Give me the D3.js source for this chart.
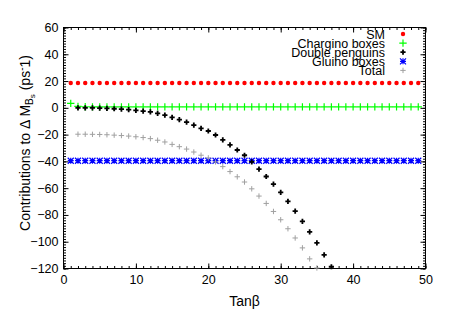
<!DOCTYPE html>
<html>
<head>
<meta charset="utf-8">
<script src="https://cdn.jsdelivr.net/npm/d3@7"></script>
<style>
  body { margin: 0; background: #fff; }
  svg { font-family: "Liberation Sans", Arial, sans-serif; }
</style>
</head>
<body>
<svg class="chart"></svg>
<script>
// data
var tanBeta = [1, 2, 3, 4, 5, 6, 7, 8, 9, 10, 11, 12, 13, 14, 15, 16, 17, 18, 19, 20,
  21, 22, 23, 24, 25, 26, 27, 28, 29, 30, 31, 32, 33, 34, 35, 36, 37, 38, 39, 40,
  41, 42, 43, 44, 45, 46, 47, 48, 49];

var smValues = [18.6, 18.6, 18.6, 18.6, 18.6, 18.6, 18.6, 18.6, 18.6, 18.6, 18.6, 18.6, 18.6, 18.6,
  18.6, 18.6, 18.6, 18.6, 18.6, 18.6, 18.6, 18.6, 18.6, 18.6, 18.6, 18.6, 18.6, 18.6, 18.6, 18.6,
  18.6, 18.6, 18.6, 18.6, 18.6, 18.6, 18.6, 18.6, 18.6, 18.6, 18.6, 18.6, 18.6, 18.6, 18.6, 18.6,
  18.6, 18.6, 18.6];

var charginoValues = [3.3, 1.1, 0.8, 0.7, 0.7, 0.7, 0.7, 0.7, 0.7, 0.7, 0.7, 0.7, 0.7, 0.7,
  0.7, 0.7, 0.7, 0.7, 0.7, 0.7, 0.7, 0.7, 0.7, 0.7, 0.7, 0.7, 0.7, 0.7, 0.7, 0.7,
  0.7, 0.7, 0.7, 0.7, 0.7, 0.7, 0.7, 0.7, 0.7, 0.7, 0.7, 0.7, 0.7, 0.7, 0.7, 0.7,
  0.7, 0.7, 0.7];

var gluinoValues = [-39.5, -39.5, -39.5, -39.5, -39.5, -39.5, -39.5, -39.5, -39.5, -39.5, -39.5,
  -39.5, -39.5, -39.5, -39.5, -39.5, -39.5, -39.5, -39.5, -39.5, -39.5, -39.5, -39.5, -39.5,
  -39.5, -39.5, -39.5, -39.5, -39.5, -39.5, -39.5, -39.5, -39.5, -39.5, -39.5, -39.5, -39.5,
  -39.5, -39.5, -39.5, -39.5, -39.5, -39.5, -39.5, -39.5, -39.5, -39.5, -39.5, -39.5];

var penguinTan = [2, 3, 4, 5, 6, 7, 8, 9, 10, 11, 12, 13, 14, 15, 16, 17, 18, 19, 20,
  21, 22, 23, 24, 25, 26, 27, 28, 29, 30, 31, 32, 33, 34, 35, 36, 37];
var penguinValues = [0, 0, -0.1, -0.2, -0.4, -0.7, -1.0, -1.4, -1.9, -2.5, -3.0, -4.2, -5.4,
  -7.2, -8.8, -10.6, -12.9, -15.3, -17.3, -20.3, -24.0, -27.7, -31.5, -35.4, -40.4, -45.8,
  -51.3, -57.0, -63.2, -69.9, -77.1, -84.8, -92.7, -100.9, -109.8, -118.7];

var totalTan = [2, 3, 4, 5, 6, 7, 8, 9, 10, 11, 12, 13, 14, 15, 16, 17, 18, 19, 20,
  21, 22, 23, 24, 25, 26, 27, 28, 29, 30, 31, 32, 33, 34, 35];
var totalValues = [-19.7, -19.7, -19.8, -19.9, -20.1, -20.4, -20.7, -21.1, -21.6, -22.2, -23.0,
  -24.2, -25.5, -27.3, -29.0, -30.8, -33.0, -35.4, -37.4, -40.4, -43.9, -47.6, -51.5, -55.4,
  -60.5, -65.9, -71.4, -77.4, -83.6, -90.3, -97.2, -104.6, -112.8, -119.6];

var xTicks = [0, 10, 20, 30, 40, 50];
var yTicks = [-120, -100, -80, -60, -40, -20, 0, 20, 40, 60];
var legendLabels = ["SM", "Chargino boxes", "Double penguins", "Gluino boxes", "Total"];

// size
var width = 450, height = 315;
var plotLeft = 63.5, plotRight = 425.5, plotTop = 27.5, plotBottom = 268.5;

var svg = d3.select(".chart")
  .attr("width", width)
  .attr("height", height);

var x = d3.scaleLinear().domain([0, 50]).range([plotLeft, plotRight]);
var y = d3.scaleLinear().domain([-120, 60]).range([plotBottom, plotTop]);

// minor ticks
var xMinor = d3.range(0, 51, 1);
var yMinor = d3.range(-120, 61, 2);

function tickAxis(axis, scale, vals, size, pos) {
  var g = svg.append("g")
    .attr("transform", pos)
    .call(axis(scale).tickValues(vals).tickSize(size).tickFormat(""));
  g.select(".domain").remove();
  g.selectAll("line").attr("stroke", "#000").attr("stroke-width", 1);
  return g;
}

tickAxis(d3.axisBottom, x, xMinor, -2.5, "translate(0," + plotBottom + ")");
tickAxis(d3.axisTop, x, xMinor, -2.5, "translate(0," + plotTop + ")");
tickAxis(d3.axisLeft, y, yMinor, -2.5, "translate(" + plotLeft + ",0)");
tickAxis(d3.axisRight, y, yMinor, -2.5, "translate(" + plotRight + ",0)");
tickAxis(d3.axisTop, x, xTicks, -5, "translate(0," + plotTop + ")");
tickAxis(d3.axisRight, y, yTicks, -5, "translate(" + plotRight + ",0)");

// x-axis
var xg = svg.append("g")
  .attr("transform", "translate(0," + plotBottom + ")")
  .call(d3.axisBottom(x).tickValues(xTicks).tickSize(-5).tickPadding(7));
xg.select(".domain").remove();
xg.selectAll("text").attr("font-size", 12.5).attr("font-family", "Liberation Sans, Arial, sans-serif").attr("fill", "#000");

// y-axis
var yg = svg.append("g")
  .attr("transform", "translate(" + plotLeft + ",0)")
  .call(d3.axisLeft(y).tickValues(yTicks).tickSize(-5).tickPadding(5));
yg.select(".domain").remove();
yg.selectAll("text").attr("font-size", 12.5).attr("font-family", "Liberation Sans, Arial, sans-serif").attr("fill", "#000");

// border
svg.append("rect")
  .attr("x", plotLeft).attr("y", plotTop)
  .attr("width", plotRight - plotLeft).attr("height", plotBottom - plotTop)
  .attr("fill", "none").attr("stroke", "#000").attr("stroke-width", 1);

// axis labels
svg.append("text")
  .attr("x", (plotLeft + plotRight) / 2)
  .attr("y", 306)
  .attr("text-anchor", "middle")
  .attr("font-size", 14)
  .text("Tanβ");

var ylab = svg.append("text")
  .attr("transform", "translate(30,143) rotate(-90)")
  .attr("text-anchor", "middle")
  .attr("font-size", 14);
ylab.append("tspan").text("Contributions to Δ M");
ylab.append("tspan").attr("font-size", 10).attr("dy", 3).text("B");
ylab.append("tspan").attr("font-size", 8).attr("dy", 2).text("s");
ylab.append("tspan").attr("dy", -5).text(" (ps");
ylab.append("tspan").attr("font-size", 10).attr("dy", -5).text("-");
ylab.append("tspan").attr("dy", 5).text("1)");

// glyphs
function plusPath(cx, cy, h) {
  return "M" + (cx - h) + "," + cy + "H" + (cx + h) + "M" + cx + "," + (cy - h) + "V" + (cy + h);
}
function starPath(cx, cy, h) {
  return plusPath(cx, cy, h) +
    "M" + (cx - h) + "," + (cy - h) + "L" + (cx + h) + "," + (cy + h) +
    "M" + (cx - h) + "," + (cy + h) + "L" + (cx + h) + "," + (cy - h);
}

var plot = svg.append("g");

// SM
plot.selectAll(".sm")
  .data(tanBeta)
  .enter().append("circle")
  .attr("class", "sm")
  .attr("cx", function(d) { return x(d); })
  .attr("cy", function(d, i) { return y(smValues[i]); })
  .attr("r", 2.2)
  .attr("fill", "#ff0000");

// gluino boxes
plot.selectAll(".gluino")
  .data(tanBeta)
  .enter().append("path")
  .attr("class", "gluino")
  .attr("d", function(d, i) { return starPath(x(d), y(gluinoValues[i]), 3); })
  .attr("stroke", "#0000ff")
  .attr("stroke-width", 1.2)
  .attr("fill", "none");

// chargino boxes
plot.selectAll(".chargino")
  .data(tanBeta)
  .enter().append("path")
  .attr("class", "chargino")
  .attr("d", function(d, i) { return plusPath(x(d), y(charginoValues[i]), 3.7); })
  .attr("stroke", "#00ff00")
  .attr("stroke-width", 1.2)
  .attr("fill", "none");

// total
plot.selectAll(".total")
  .data(totalTan)
  .enter().append("path")
  .attr("class", "total")
  .attr("d", function(d, i) { return plusPath(x(d), y(totalValues[i]), 2.7); })
  .attr("stroke", "#a0a0a0")
  .attr("stroke-width", 1)
  .attr("fill", "none");

// double penguins
plot.selectAll(".penguin")
  .data(penguinTan)
  .enter().append("path")
  .attr("class", "penguin")
  .attr("d", function(d, i) { return plusPath(x(d), y(penguinValues[i]), 2.6); })
  .attr("stroke", "#000")
  .attr("stroke-width", 1.8)
  .attr("fill", "none");

// legend
var legend = svg.append("g");
legendLabels.forEach(function(label, i) {
  var ly = 34 + i * 9.1;
  legend.append("text")
    .attr("x", 385)
    .attr("y", ly + 4.5)
    .attr("text-anchor", "end")
    .attr("font-size", 12.5)
    .text(label);
  if (i === 0) {
    legend.append("circle").attr("cx", 403).attr("cy", ly).attr("r", 2.2).attr("fill", "#ff0000");
  } else if (i === 1) {
    legend.append("path").attr("d", plusPath(403, ly, 3.7)).attr("stroke", "#00ff00").attr("stroke-width", 1.2);
  } else if (i === 2) {
    legend.append("path").attr("d", plusPath(403, ly, 2.6)).attr("stroke", "#000").attr("stroke-width", 1.8);
  } else if (i === 3) {
    legend.append("path").attr("d", starPath(403, ly, 3)).attr("stroke", "#0000ff").attr("stroke-width", 1.2);
  } else {
    legend.append("path").attr("d", plusPath(403, ly, 2.7)).attr("stroke", "#a0a0a0").attr("stroke-width", 1);
  }
});
</script>
</body>
</html>
